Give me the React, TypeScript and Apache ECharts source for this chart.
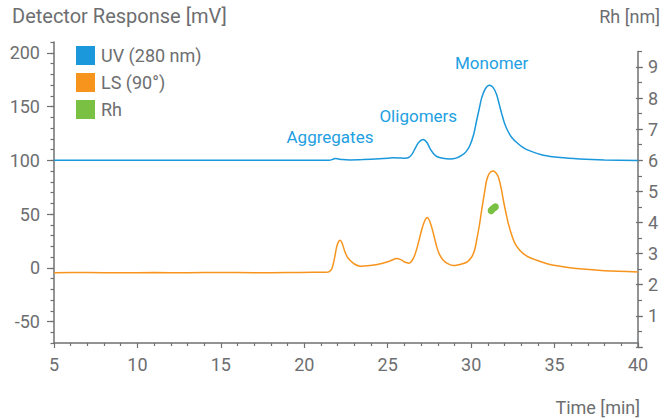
import React, { useEffect, useRef } from "react";
import * as echarts from "echarts";

// ---- Data ----
const uvTime = [5, 8, 12, 16, 19, 21, 21.5, 21.7, 21.84, 22.0, 22.3, 22.74, 23.5, 24.5, 25.0, 25.33, 25.7, 26.0, 26.23, 26.45, 26.63, 26.85, 27.13, 27.35, 27.53, 27.75, 27.94, 28.3, 28.73, 29.1, 29.43, 29.7, 29.93, 30.15, 30.33, 30.5, 30.63, 30.85, 31.09, 31.3, 31.53, 31.7, 31.83, 32.0, 32.23, 32.45, 32.73, 33.1, 33.53, 34.33, 35.33, 36.5, 38, 40];
const uvValue = [100, 100, 100, 100, 100, 99.9, 100, 100.8, 101.6, 101.3, 100.6, 100.3, 100.6, 101.3, 101.8, 102.3, 102.2, 101.9, 102.3, 105.5, 110.5, 116.5, 119.3, 116.5, 111, 106, 103.5, 101.8, 101.2, 102, 104.5, 108, 114, 124, 137, 149, 158, 166.5, 169.8, 168, 161, 151, 143.4, 134.5, 126.3, 121, 116.5, 112, 108.7, 104.7, 102.5, 101.2, 100.3, 99.8];

const lsTime = [5, 7, 9, 11, 13, 15, 17, 19, 20.5, 21.3, 21.5, 21.65, 21.8, 21.94, 22.05, 22.14, 22.25, 22.44, 22.6, 22.74, 23.0, 23.34, 23.94, 24.64, 25.14, 25.54, 25.75, 25.94, 26.15, 26.29, 26.45, 26.6, 26.75, 26.9, 27.03, 27.2, 27.37, 27.5, 27.63, 27.8, 27.94, 28.1, 28.33, 28.6, 28.93, 29.53, 29.8, 30.03, 30.2, 30.33, 30.5, 30.63, 30.8, 30.93, 31.1, 31.33, 31.5, 31.63, 31.8, 31.93, 32.1, 32.23, 32.45, 32.63, 32.9, 33.13, 33.5, 33.93, 34.73, 35.33, 36.5, 38, 40];
const lsValue = [-4.6, -4.4, -4.7, -4.5, -4.6, -4.4, -4.6, -4.5, -4.3, -4.2, -3.6, -1, 8, 19.4, 24, 25.6, 23.5, 14.7, 9.5, 7, 3.5, 1.4, 2, 3.9, 6.3, 8.5, 7.8, 6, 4.6, 4.2, 6.5, 11, 18, 27, 34.9, 43, 46.7, 44, 38, 28, 19.4, 12.5, 7, 3.8, 2, 3.9, 6, 10, 16, 25.6, 40, 53.5, 70, 81.4, 88, 90, 88, 84.5, 74, 62.8, 50, 41, 29.5, 22.5, 16.5, 13.2, 9.5, 7, 3, 1.4, -1, -2.8, -3.9];

const rhTime = [31.2, 31.25, 31.3, 31.38, 31.45];
const rhValue = [4.38, 4.41, 4.44, 4.47, 4.5];

const seriesNames = ["UV (280 nm)", "LS (90°)", "Rh"];
const peakNames = ["Aggregates", "Oligomers", "Monomer"];
const peakTimes = [21.54, 26.83, 31.23];
const peakLevels = [121.9, 141.2, 190.2];

const leftMajorTicks = [-50, 0, 50, 100, 150, 200];
const rightMajorTicks = [1, 2, 3, 4, 5, 6, 7, 8, 9];
const timeTicks = [5, 10, 15, 20, 25, 30, 35, 40];

// ---- Style / layout ----
const W = 661;
const H = 418;
const GRID_LEFT = 54;
const GRID_RIGHT = 23;
const GRID_TOP = 42;
const GRID_BOTTOM = 75;
const LEFT_MIN = -70;
const LEFT_MAX = 210;
const RH_MIN = 0;
const RH_MAX = 9.5;
const RH_PX = 31.1;

const AXIS_COLOR = "#6f7072";
const TEXT_COLOR = "#6d6e70";
const BLUE = "#1a98db";
const ORANGE = "#f7941d";
const GREEN = "#7ac143";
const LABEL_BLUE = "#1ea0e2";
const FONT = "Roboto, 'Noto Sans', sans-serif";
const FS = 18;

const plotH = H - GRID_TOP - GRID_BOTTOM;
const yPx = (v: number) => GRID_TOP + ((LEFT_MAX - v) * plotH) / (LEFT_MAX - LEFT_MIN);
const rhPx = (r: number) => yPx(100) + (6 - r) * RH_PX;

export default function App() {
  const ref = useRef<HTMLDivElement>(null);

  useEffect(() => {
    if (!ref.current) return;
    const chart = echarts.init(ref.current, undefined, { renderer: "svg" });

    const xHidden = (gridIndex: number) => ({
      type: "value" as const,
      gridIndex,
      min: timeTicks[0],
      max: timeTicks[timeTicks.length - 1],
      show: false,
    });

    const option: any = {
      animation: false,
      backgroundColor: "#ffffff",
      textStyle: { fontFamily: FONT },
      grid: [
        { left: GRID_LEFT, right: GRID_RIGHT, top: GRID_TOP, bottom: GRID_BOTTOM },
        { left: GRID_LEFT, right: GRID_RIGHT, top: yPx(leftMajorTicks[leftMajorTicks.length - 1]), bottom: H - yPx(leftMajorTicks[0]) },
        { left: GRID_LEFT, right: GRID_RIGHT, top: rhPx(RH_MAX), bottom: H - rhPx(RH_MIN) },
        { left: GRID_LEFT, right: GRID_RIGHT, top: rhPx(rightMajorTicks[rightMajorTicks.length - 1]), bottom: H - rhPx(RH_MIN) },
      ],
      xAxis: [
        {
          type: "value",
          gridIndex: 0,
          min: timeTicks[0],
          max: timeTicks[timeTicks.length - 1],
          interval: 5,
          axisLine: { show: true, onZero: false, lineStyle: { color: AXIS_COLOR, width: 1.5 } },
          axisTick: { show: true, length: 5, lineStyle: { color: AXIS_COLOR, width: 1.2 } },
          minorTick: { show: true, splitNumber: 5, length: 3, lineStyle: { color: AXIS_COLOR, width: 1.2 } },
          splitLine: { show: false },
          axisLabel: { color: TEXT_COLOR, fontSize: FS, fontFamily: FONT, margin: 12 },
        },
        xHidden(1),
        xHidden(2),
        xHidden(3),
      ],
      yAxis: [
        {
          type: "value",
          gridIndex: 0,
          position: "left",
          min: LEFT_MIN,
          max: LEFT_MAX,
          interval: 10,
          axisLine: { show: true, onZero: false, lineStyle: { color: AXIS_COLOR, width: 1.5 } },
          axisTick: { show: true, length: 3.5, lineStyle: { color: AXIS_COLOR, width: 1.2 } },
          axisLabel: { show: false },
          splitLine: { show: false },
        },
        {
          type: "value",
          gridIndex: 1,
          position: "left",
          min: leftMajorTicks[0],
          max: leftMajorTicks[leftMajorTicks.length - 1],
          interval: 50,
          axisLine: { show: false },
          axisTick: { show: true, length: 7, lineStyle: { color: AXIS_COLOR, width: 1.2 } },
          axisLabel: { color: TEXT_COLOR, fontSize: FS, fontFamily: FONT, margin: 14 },
          splitLine: { show: false },
        },
        {
          type: "value",
          gridIndex: 2,
          position: "right",
          min: RH_MIN,
          max: RH_MAX,
          interval: 0.5,
          axisLine: { show: true, onZero: false, lineStyle: { color: AXIS_COLOR, width: 1.5 } },
          axisTick: { show: true, length: 4, lineStyle: { color: AXIS_COLOR, width: 1.2 } },
          axisLabel: { show: false },
          splitLine: { show: false },
        },
        {
          type: "value",
          gridIndex: 3,
          position: "right",
          min: RH_MIN,
          max: rightMajorTicks[rightMajorTicks.length - 1],
          interval: 1,
          axisLine: { show: false },
          axisTick: { show: true, length: 7, lineStyle: { color: AXIS_COLOR, width: 1.2 } },
          axisLabel: {
            color: TEXT_COLOR,
            fontSize: FS,
            fontFamily: FONT,
            margin: 12,
            formatter: (v: number) => (rightMajorTicks.indexOf(v) >= 0 ? String(v) : ""),
          },
          splitLine: { show: false },
        },
      ],
      legend: {
        orient: "vertical",
        left: 71,
        top: 41,
        icon: "rect",
        itemWidth: 19,
        itemHeight: 19,
        itemGap: 8,
        data: seriesNames,
        textStyle: { color: TEXT_COLOR, fontSize: FS, fontFamily: FONT, padding: [0, 0, 0, 1] },
      },
      series: [
        {
          name: seriesNames[0],
          type: "line",
          xAxisIndex: 0,
          yAxisIndex: 0,
          data: uvTime.map((t, i) => [t, uvValue[i]]),
          showSymbol: false,
          smooth: 0.3,
          lineStyle: { color: BLUE, width: 1.5 },
          itemStyle: { color: BLUE },
          markPoint: {
            symbol: "rect",
            symbolSize: 1,
            itemStyle: { color: "rgba(0,0,0,0)" },
            label: {
              show: true,
              position: "inside",
              color: LABEL_BLUE,
              fontSize: 17,
              fontFamily: FONT,
              formatter: (p: any) => p.name,
            },
            data: peakNames.map((n, i) => ({ name: n, coord: [peakTimes[i], peakLevels[i]] })),
          },
        },
        {
          name: seriesNames[1],
          type: "line",
          xAxisIndex: 0,
          yAxisIndex: 0,
          data: lsTime.map((t, i) => [t, lsValue[i]]),
          showSymbol: false,
          smooth: 0.3,
          lineStyle: { color: ORANGE, width: 1.5 },
          itemStyle: { color: ORANGE },
        },
        {
          name: seriesNames[2],
          type: "scatter",
          xAxisIndex: 2,
          yAxisIndex: 2,
          data: rhTime.map((t, i) => [t, rhValue[i]]),
          symbolSize: 7,
          itemStyle: { color: GREEN, opacity: 1 },
        },
      ],
      graphic: [
        {
          type: "text",
          left: 12,
          top: 6,
          style: { text: "Detector Response [mV]", fill: TEXT_COLOR, fontSize: 20, fontFamily: FONT },
        },
        {
          type: "text",
          right: 1,
          top: 7,
          style: { text: "Rh [nm]", fill: TEXT_COLOR, fontSize: FS, fontFamily: FONT },
        },
        {
          type: "text",
          right: 21,
          top: 398,
          style: { text: "Time [min]", fill: TEXT_COLOR, fontSize: FS, fontFamily: FONT },
        },
      ],
    };

    chart.setOption(option);
    return () => chart.dispose();
  }, []);

  return (
    <div
      ref={ref}
      style={{ position: "fixed", left: 0, top: 0, width: W, height: H, background: "#fff" }}
    />
  );
}
